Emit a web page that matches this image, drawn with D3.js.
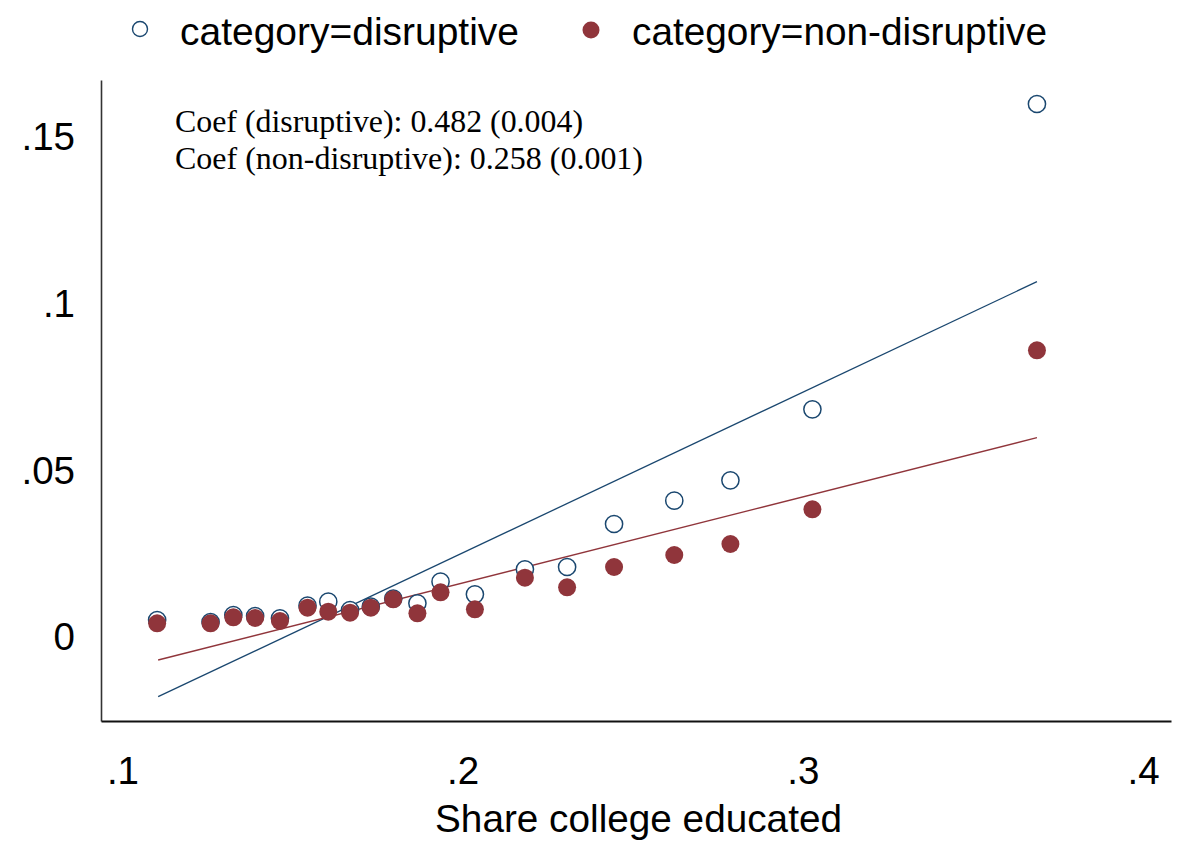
<!DOCTYPE html>
<html>
<head>
<meta charset="utf-8">
<script src="https://cdn.jsdelivr.net/npm/d3@7"></script>
<style>
  html, body { margin: 0; padding: 0; background: #ffffff; }
  svg { display: block; }
</style>
</head>
<body>
<svg id="chart" width="1187" height="844"></svg>
<script>
// ---- data ----
const shareCollege = [0.1102, 0.1259, 0.1326, 0.1390, 0.1463, 0.1544, 0.1605, 0.1669, 0.1730, 0.1796,
                      0.1867, 0.1935, 0.2036, 0.2183, 0.2307, 0.2445, 0.2622, 0.2787, 0.3028, 0.3688];
const disruptive = [0.0048, 0.0042, 0.0063, 0.0060, 0.0053, 0.0091, 0.0103, 0.0078, 0.0088, 0.0112,
                    0.0098, 0.0163, 0.0125, 0.0200, 0.0207, 0.0336, 0.0406, 0.0467, 0.0680, 0.1596];
const nonDisruptive = [0.0038, 0.0038, 0.0056, 0.0054, 0.0045, 0.0085, 0.0073, 0.0070, 0.0085, 0.0110,
                       0.0068, 0.0131, 0.0080, 0.0175, 0.0146, 0.0207, 0.0243, 0.0276, 0.0380, 0.0857];
const fitX = [0.1105, 0.3688];
const fitDisruptive = [-0.0182, 0.1063];
const fitNonDisruptive = [-0.0072, 0.0595];
const xTicks = [0.1, 0.2, 0.3, 0.4];
const yTicks = [0, 0.05, 0.1, 0.15];
const legendLabels = ["category=disruptive", "category=non-disruptive"];
const notes = ["Coef (disruptive): 0.482 (0.004)", "Coef (non-disruptive): 0.258 (0.001)"];
const xTitle = "Share college educated";

// ---- layout ----
const blue = "#1a476f", red = "#90353b";
const pLeft = 101, pRight = 1171, pTop = 80, pBottom = 721;
const svg = d3.select("#chart");
const sans = "'Liberation Sans', Arial, sans-serif";
const serif = "'Liberation Serif', 'Times New Roman', serif";

const x = d3.scaleLinear().domain([0.0937, 0.4082]).range([pLeft, pRight]);
const y = d3.scaleLinear().domain([-0.0255, 0.1668]).range([pBottom, pTop]);

const fmt = v => v === 0 ? "0" : String(+v.toFixed(3)).replace(/^0/, "");

// axes
const gy = svg.append("g").attr("transform", `translate(${pLeft},0)`)
  .call(d3.axisLeft(y).tickValues(yTicks).tickFormat(fmt).tickSize(0).tickSizeOuter(0).tickPadding(26));
gy.select(".domain").attr("stroke", "#333").attr("stroke-width", 1.6);
gy.selectAll("text").attr("font-family", sans).attr("font-size", 38.5).attr("fill", "#000").attr("dy", "0.36em");

const gx = svg.append("g").attr("transform", `translate(0,${pBottom})`)
  .call(d3.axisBottom(x).tickValues(xTicks).tickFormat(fmt).tickSize(0).tickSizeOuter(0).tickPadding(36));
gx.select(".domain").attr("stroke", "#111").attr("stroke-width", 1.8);
gx.selectAll("text").attr("font-family", sans).attr("font-size", 38.5).attr("fill", "#000");

// axis title
svg.append("text").attr("x", 435).attr("y", 832)
  .attr("font-family", sans).attr("font-size", 39).attr("fill", "#000")
  .attr("textLength", 407).attr("lengthAdjust", "spacingAndGlyphs")
  .text(xTitle);

// fit lines
const line = d3.line().x(d => x(d[0])).y(d => y(d[1]));
svg.append("path").datum(fitX.map((v, i) => [v, fitDisruptive[i]]))
  .attr("d", line).attr("fill", "none").attr("stroke", blue).attr("stroke-width", 1.3);
svg.append("path").datum(fitX.map((v, i) => [v, fitNonDisruptive[i]]))
  .attr("d", line).attr("fill", "none").attr("stroke", red).attr("stroke-width", 1.3);

// points: disruptive (hollow) first, then non-disruptive (solid) on top
svg.append("g").selectAll("circle").data(shareCollege.map((v, i) => [v, disruptive[i]]))
  .join("circle").attr("cx", d => x(d[0])).attr("cy", d => y(d[1])).attr("r", 8.6)
  .attr("fill", "#fff").attr("stroke", blue).attr("stroke-width", 1.5);
svg.append("g").selectAll("circle").data(shareCollege.map((v, i) => [v, nonDisruptive[i]]))
  .join("circle").attr("cx", d => x(d[0])).attr("cy", d => y(d[1])).attr("r", 9)
  .attr("fill", red);

// annotations
const noteWidths = [408, 468];
notes.forEach((t, i) => {
  svg.append("text").attr("x", 175).attr("y", 132 + i * 37)
    .attr("font-family", serif).attr("font-size", 32).attr("fill", "#000")
    .attr("textLength", noteWidths[i]).attr("lengthAdjust", "spacingAndGlyphs").text(t);
});

// legend
svg.append("circle").attr("cx", 140).attr("cy", 29).attr("r", 7.5)
  .attr("fill", "#fff").attr("stroke", blue).attr("stroke-width", 1.4);
svg.append("text").attr("x", 180).attr("y", 45).attr("font-family", sans).attr("font-size", 39)
  .attr("textLength", 339).attr("lengthAdjust", "spacingAndGlyphs")
  .attr("fill", "#000").text(legendLabels[0]);
svg.append("circle").attr("cx", 591).attr("cy", 30).attr("r", 8.5).attr("fill", red);
svg.append("text").attr("x", 632).attr("y", 45).attr("font-family", sans).attr("font-size", 39)
  .attr("textLength", 415).attr("lengthAdjust", "spacingAndGlyphs")
  .attr("fill", "#000").text(legendLabels[1]);
</script>
</body>
</html>
